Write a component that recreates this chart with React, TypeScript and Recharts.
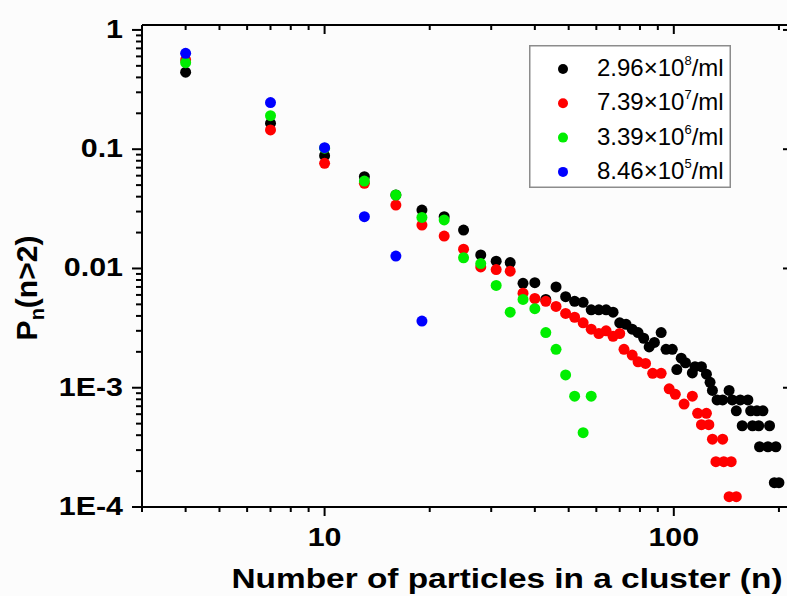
import React from "react";
import { ScatterChart, Scatter, XAxis, YAxis, Legend } from "recharts";

// Cluster size n (particles per cluster) and probability P_n for each concentration
const nBlack = [4, 7, 10, 13, 16, 19, 22, 25, 28, 31, 34, 37, 40, 43, 46, 49, 52, 55, 58, 61, 64, 67, 70, 73, 76, 79, 82, 85, 88, 92, 95, 99, 102, 105, 108, 113, 115, 120, 124, 127, 129, 133, 138, 144, 147, 151, 155, 157, 163, 166, 168, 173, 175, 176, 180, 186, 188, 194, 196, 200];
const pBlack = [0.442, 0.165, 0.0883, 0.0588, 0.0413, 0.0309, 0.0272, 0.021, 0.013, 0.0115, 0.0112, 0.0075, 0.0076, 0.0055, 0.007, 0.0058, 0.0053, 0.0052, 0.0045, 0.0045, 0.0045, 0.0043, 0.0035, 0.0034, 0.0031, 0.0029, 0.0026, 0.0022, 0.0024, 0.0029, 0.0021, 0.0021, 0.00142, 0.00177, 0.00162, 0.00133, 0.0015, 0.0015, 0.0013, 0.00111, 0.00095, 0.00079, 0.00079, 0.00095, 0.00079, 0.00064, 0.00079, 0.00048, 0.00079, 0.00064, 0.00048, 0.00064, 0.00048, 0.00032, 0.00064, 0.00032, 0.00048, 0.00016, 0.00032, 0.00016];

const nRed = [4, 7, 10, 13, 16, 19, 22, 25, 28, 31, 34, 37, 40, 43, 46, 49, 52, 55, 58, 61, 64, 67, 70, 72, 76, 79, 83, 87, 92, 97, 101, 107, 113, 117, 120, 124, 126, 129, 132, 138, 139, 144, 146, 151];
const pRed = [0.56, 0.145, 0.0762, 0.0518, 0.034, 0.0231, 0.0187, 0.0145, 0.0103, 0.0098, 0.0095, 0.0062, 0.0056, 0.0053, 0.0048, 0.0042, 0.0039, 0.0035, 0.0031, 0.00285, 0.003, 0.0027, 0.00285, 0.0021, 0.00188, 0.00165, 0.0016, 0.00132, 0.00132, 0.00098, 0.00088, 0.00073, 0.00085, 0.00061, 0.00049, 0.00061, 0.00049, 0.00037, 0.00024, 0.00037, 0.00024, 0.000122, 0.00024, 0.000122];

const nGreen = [4, 7, 10, 13, 16, 19, 22, 25, 28, 31, 34, 37, 40, 43, 46, 49, 52, 55, 58];
const pGreen = [0.532, 0.191, 0.102, 0.054, 0.0413, 0.0268, 0.0255, 0.0123, 0.011, 0.0072, 0.0043, 0.0055, 0.0046, 0.0029, 0.0021, 0.00128, 0.00085, 0.00042, 0.00085];

const nBlue = [4, 7, 10, 13, 16, 19];
const pBlue = [0.637, 0.246, 0.103, 0.0272, 0.0127, 0.00362];

// Legend text: mantissa ×10^exponent /ml
const mantissas = ["2.96", "7.39", "3.39", "8.46"];
const exponents = ["8", "7", "6", "5"];
const colors = ["#000000", "#ff0000", "#00ee00", "#0000ff"];

// Axis ticks
const xMajorTicks = [10, 100];
const xTicks = [3, 4, 5, 6, 7, 8, 9, 10, 20, 30, 40, 50, 60, 70, 80, 90, 100, 200];
const yMajorTicks = [0.0001, 0.001, 0.01, 0.1, 1];
const yMajorLabels = ["1E-4", "1E-3", "0.01", "0.1", "1"];
const yTicks: number[] = [];
for (let e = -4; e < 0; e++) {
  for (let m = 1; m <= 9; m++) yTicks.push(Number((m * Math.pow(10, e)).toPrecision(3)));
}
yTicks.push(1);

const X_DOMAIN: [number, number] = [3, 218];
const Y_DOMAIN: [number, number] = [0.0001, 1.1];

const zip = (ns: number[], ps: number[]) => ns.map((n, i) => ({ n, p: ps[i] }));

const SERIES = [
  { name: "2.96×10^8/ml", data: zip(nBlack, pBlack) },
  { name: "7.39×10^7/ml", data: zip(nRed, pRed) },
  { name: "3.39×10^6/ml", data: zip(nGreen, pGreen) },
  { name: "8.46×10^5/ml", data: zip(nBlue, pBlue) },
].map((s, i) => ({ ...s, color: colors[i], mantissa: mantissas[i], exponent: exponents[i] }));

const FONT = '"Liberation Sans", Arial, Helvetica, sans-serif';
const STROKE = 2;

const isDecade = (v: number) => Math.abs(Math.log10(v) - Math.round(Math.log10(v))) < 1e-6;

function BottomTick(props: any) {
  const { x, y, payload } = props;
  const v = payload.value;
  const major = xMajorTicks.includes(v);
  return (
    <g>
      <line x1={x} x2={x} y1={y} y2={y + (major ? 9 : 5)} stroke="#000" strokeWidth={STROKE} />
      {major && (
        <text
          transform={`translate(${x},${y + 39}) scale(1.17,1)`}
          textAnchor="middle"
          fontSize={26}
          fontWeight="bold"
          fontFamily={FONT}
          fill="#000"
        >
          {v}
        </text>
      )}
    </g>
  );
}

function TopTick(props: any) {
  const { x, y, payload } = props;
  const major = xMajorTicks.includes(payload.value);
  return <line x1={x} x2={x} y1={y} y2={y + (major ? 9 : 5)} stroke="#000" strokeWidth={STROKE} />;
}

function LeftTick(props: any) {
  const { x, y, payload } = props;
  const v = payload.value;
  const major = isDecade(v);
  const idx = yMajorTicks.findIndex((t) => Math.abs(Math.log10(t) - Math.log10(v)) < 1e-6);
  return (
    <g>
      <line x1={x - (major ? 10 : 6)} x2={x} y1={y} y2={y} stroke="#000" strokeWidth={STROKE} />
      {major && idx >= 0 && (
        <text
          transform={`translate(${x - 19},${y + 8}) scale(1.17,1)`}
          textAnchor="end"
          fontSize={26}
          fontWeight="bold"
          fontFamily={FONT}
          fill="#000"
        >
          {yMajorLabels[idx]}
        </text>
      )}
    </g>
  );
}

function RightTick(props: any) {
  const { x, y, payload } = props;
  const major = isDecade(payload.value);
  return <line x1={x - (major ? 9 : 5)} x2={x} y1={y} y2={y} stroke="#000" strokeWidth={STROKE} />;
}

function XTitle() {
  return (
    <text
      x={507}
      y={588}
      textAnchor="middle"
      fontSize={27}
      fontWeight="bold"
      fontFamily={FONT}
      fill="#000"
      textLength={551}
      lengthAdjust="spacingAndGlyphs"
    >
      Number of particles in a cluster (n)
    </text>
  );
}

function YTitle() {
  return (
    <text
      transform="translate(37,288) rotate(-90)"
      textAnchor="middle"
      fontSize={30}
      fontWeight="bold"
      fontFamily={FONT}
      fill="#000"
    >
      P
      <tspan dy={7} fontSize={20}>
        n
      </tspan>
      <tspan dy={-7}>(n&gt;2)</tspan>
    </text>
  );
}

function LegendBox() {
  return (
    <svg width={202} height={143} style={{ display: "block" }}>
      <rect x={0.75} y={0.75} width={200.5} height={141.5} fill="#ffffff" stroke="#8c8c8c" strokeWidth={1.5} />
      {SERIES.map((s, i) => {
        const cy = 24 + i * 34.3;
        return (
          <g key={s.name}>
            <circle cx={34} cy={cy} r={5} fill={s.color} />
            <text x={68} y={cy + 7} fontSize={24} fontFamily={FONT} fill="#000">
              {s.mantissa}
              {"\u00d7"}10
              <tspan dy={-11} fontSize={13}>
                {s.exponent}
              </tspan>
              <tspan dy={11} fontSize={24}>
                /ml
              </tspan>
            </text>
          </g>
        );
      })}
    </svg>
  );
}

const dotShape = (color: string) => (props: any) =>
  <circle cx={props.cx} cy={props.cy} r={5.5} fill={color} />;

export default function App() {
  return (
    <div
      style={{
        position: "absolute",
        left: 0,
        top: 0,
        width: 787,
        height: 596,
        overflow: "hidden",
        background: "#fcfcfc",
      }}
    >
      <ScatterChart width={800} height={596} margin={{ top: 0, right: 0, bottom: 0, left: 0 }}>
        <XAxis
          xAxisId="bottom"
          type="number"
          dataKey="n"
          scale="log"
          domain={X_DOMAIN}
          allowDataOverflow
          ticks={xTicks}
          interval={0}
          height={89}
          tickSize={0}
          tickMargin={0}
          tickLine={false}
          axisLine={{ stroke: "#000", strokeWidth: STROKE }}
          tick={<BottomTick />}
          label={<XTitle />}
        />
        <XAxis
          xAxisId="top"
          orientation="top"
          type="number"
          dataKey="n"
          scale="log"
          domain={X_DOMAIN}
          allowDataOverflow
          ticks={xTicks}
          interval={0}
          height={25}
          tickSize={0}
          tickMargin={0}
          tickLine={false}
          axisLine={{ stroke: "#000", strokeWidth: STROKE }}
          tick={<TopTick />}
        />
        <YAxis
          yAxisId="left"
          type="number"
          dataKey="p"
          scale="log"
          domain={Y_DOMAIN}
          allowDataOverflow
          ticks={yTicks}
          interval={0}
          width={142}
          tickSize={0}
          tickMargin={0}
          tickLine={false}
          axisLine={{ stroke: "#000", strokeWidth: STROKE }}
          tick={<LeftTick />}
          label={<YTitle />}
        />
        <YAxis
          yAxisId="right"
          orientation="right"
          type="number"
          dataKey="p"
          scale="log"
          domain={Y_DOMAIN}
          allowDataOverflow
          ticks={yTicks}
          interval={0}
          width={8}
          tickSize={0}
          tickMargin={0}
          tickLine={false}
          axisLine={{ stroke: "#000", strokeWidth: STROKE }}
          tick={<RightTick />}
        />
        {SERIES.map((s) => (
          <Scatter
            key={s.name}
            name={s.name}
            data={s.data}
            xAxisId="bottom"
            yAxisId="left"
            fill={s.color}
            isAnimationActive={false}
            shape={dotShape(s.color)}
          />
        ))}
        <Legend
          layout="horizontal"
          verticalAlign="middle"
          align="center"
          content={<LegendBox />}
          wrapperStyle={{ left: 529, top: 45, width: 202, height: 143 }}
        />
      </ScatterChart>
    </div>
  );
}
